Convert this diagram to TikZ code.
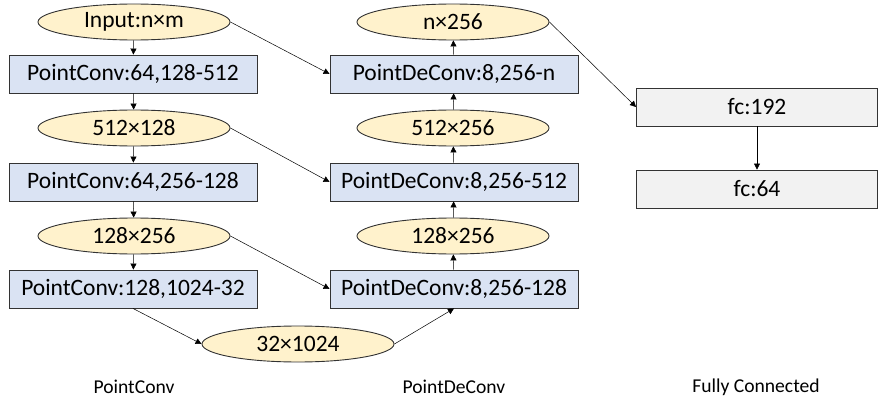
\documentclass[tikz,border=0pt]{standalone}
\usepackage{fontspec}
\setmainfont{Carlito}
\usetikzlibrary{arrows.meta,shapes.geometric}
\definecolor{shapegold}{HTML}{FFF2CC}
\definecolor{shapeblue}{HTML}{DAE3F3}
\definecolor{shapegray}{HTML}{F2F2F2}
\definecolor{edgeline}{HTML}{333333}
\tikzset{
  tensor/.style={ellipse, draw=edgeline, line width=0.9pt, fill=shapegold,
    minimum width=192pt, minimum height=36pt, inner sep=0pt,
    font=\fontsize{23.5}{26}\selectfont},
  layer/.style={rectangle, draw=edgeline, line width=0.9pt, fill=shapeblue,
    minimum width=248pt, minimum height=38pt, inner sep=0pt,
    font=\fontsize{23.5}{26}\selectfont},
  fcbox/.style={rectangle, draw=edgeline, line width=0.9pt, fill=shapegray,
    minimum width=241pt, minimum height=38pt, inner sep=0pt,
    font=\fontsize{23.5}{26}\selectfont},
  caption/.style={font=\fontsize{19.6}{23}\selectfont},
  link/.style={draw=black, line width=0.5pt,
    -{Triangle[length=6pt,width=6pt]}}
}
\begin{document}
\begin{tikzpicture}[x=1pt,y=-1pt]
\useasboundingbox (0,0) rectangle (879,404);

% encoder column
\node[tensor] (in)  at (134,22)  {Input:n×m};
\node[layer]  (c1)  at (133,74)  {PointConv:64,128-512};
\node[tensor] (t1)  at (134,128) {512×128};
\node[layer]  (c2)  at (133,182) {PointConv:64,256-128};
\node[tensor] (t2)  at (134,236) {128×256};
\node[layer]  (c3)  at (133,289) {PointConv:128,1024-32};
\node[tensor] (lat) at (298,344) {32×1024};

% decoder column
\node[tensor] (out) at (453,22)  {n×256};
\node[layer]  (d1)  at (454,74)  {PointDeConv:8,256-n};
\node[tensor] (u1)  at (453,128) {512×256};
\node[layer]  (d2)  at (454,182) {PointDeConv:8,256-512};
\node[tensor] (u2)  at (453,236) {128×256};
\node[layer]  (d3)  at (454,289) {PointDeConv:8,256-128};

% fully connected head
\node[fcbox]  (f1)  at (757,107) {fc:192};
\node[fcbox]  (f2)  at (757,189) {fc:64};

% column captions
\node[caption] (capA) at (134,387) {PointConv};
\node[caption] (capB) at (454,387) {PointDeConv};
\node[caption] (capC) at (756,387) {Fully Connected};

% encoder flow
\draw[link] (in) -- (c1);
\draw[link] (c1) -- (t1);
\draw[link] (t1) -- (c2);
\draw[link] (c2) -- (t2);
\draw[link] (t2) -- (c3);
\draw[link] (c3.south) -- (lat.west);

% decoder flow
\draw[link] (lat.east) -- (d3.south);
\draw[link] (d3) -- (u2);
\draw[link] (u2) -- (d2);
\draw[link] (d2) -- (u1);
\draw[link] (u1) -- (d1);
\draw[link] (d1) -- (out);

% skip connections
\draw[link] (in.east) -- (d1.west);
\draw[link] (t1.east) -- (d2.west);
\draw[link] (t2.east) -- (d3.west);

% head
\draw[link] (out.east) -- (f1.west);
\draw[link] (f1) -- (f2);
\end{tikzpicture}
\end{document}
